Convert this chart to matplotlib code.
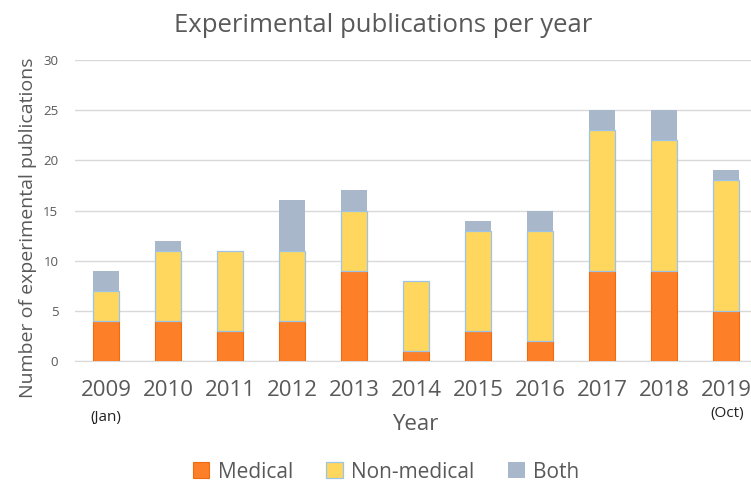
import matplotlib
matplotlib.use("Agg")
import matplotlib.pyplot as plt
import numpy as np

years = ["2009", "2010", "2011", "2012", "2013", "2014", "2015", "2016", "2017", "2018", "2019"]
medical = [4, 4, 3, 4, 9, 1, 3, 2, 9, 9, 5]
non_medical = [3, 7, 8, 7, 6, 7, 10, 11, 14, 13, 13]
both = [2, 1, 0, 5, 2, 0, 1, 2, 2, 3, 1]

plt.rcParams['font.family'] = ['Open Sans', 'DejaVu Sans']
grey = '#595959'

fig = plt.figure(figsize=(7.51, 4.84), dpi=100)
W, H = 751, 484
ax = fig.add_axes([75 / W, 123 / H, 682 / W, 301 / H])

x = np.arange(len(years))
bw = 0.42
med = np.array(medical)
non = np.array(non_medical)
bo = np.array(both)

b1 = ax.bar(x, med, bw, color='#FD7F27', edgecolor='#F06A10', linewidth=0.8, label='Medical', zorder=3)
b2 = ax.bar(x, non, bw, bottom=med, color='#FFD75E', edgecolor='#9DC3E6', linewidth=0.9, label='Non-medical', zorder=3)
b3 = ax.bar(x, bo, bw, bottom=med + non, color='#A8B7CA', edgecolor='none', label='Both', zorder=2)

ax.set_xlim(-0.5, len(years) - 0.5)
ax.set_ylim(0, 30)
ax.set_yticks(range(0, 31, 5))
ax.yaxis.grid(True, color='#D9D9D9', linewidth=1, zorder=0)
ax.set_axisbelow(True)
for s in ['top', 'right', 'left']:
    ax.spines[s].set_visible(False)
ax.spines['bottom'].set_color('#D9D9D9')
ax.tick_params(axis='both', length=0)
ax.tick_params(axis='y', labelsize=9.5, labelcolor=grey, pad=12)
ax.set_xticks(x)
ax.set_xticklabels(years, fontsize=16, color=grey)
ax.tick_params(axis='x', pad=14)

fig.text(28 / W, 1 - 228 / H, 'Number of experimental publications', rotation=90, ha='center', va='center',
         fontsize=14, color=grey)
fig.text(415 / W, 1 - 424 / H, 'Year', ha='center', va='center', fontsize=16, color=grey)
fig.text(106 / W, 1 - 417 / H, '(Jan)', ha='center', va='center', fontsize=11, color='#222222')
fig.text(727 / W, 1 - 413 / H, '(Oct)', ha='center', va='center', fontsize=11, color='#222222')
fig.text(383 / W, 1 - 26 / H, 'Experimental publications per year', ha='center', va='center', fontsize=18.5, color=grey)

leg = fig.legend(handles=[b1, b2, b3], loc='center', bbox_to_anchor=(386 / W, 1 - 472 / H), ncol=3,
                 frameon=False, fontsize=15, handlelength=0.8, handleheight=0.8, columnspacing=1.6,
                 handletextpad=0.4, borderpad=0.1)
for t in leg.get_texts():
    t.set_color(grey)

fig.savefig('out.png', dpi=100)
